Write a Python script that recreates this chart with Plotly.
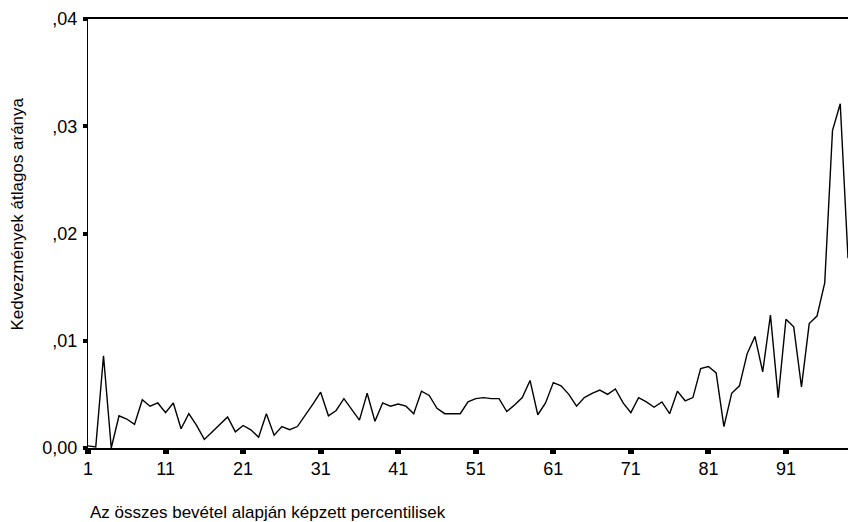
import plotly.graph_objects as go

# Percentiles of total income (1..99) and the mean share of allowances
percentiles = list(range(1, 100))
avg_share = [
    0.0002, 0.0001, 0.0086, 0.0000, 0.0030, 0.0027, 0.0022, 0.0045, 0.0039, 0.0042,  # 1-10
    0.0033, 0.0042, 0.0018, 0.0032, 0.0021, 0.0008, 0.0015, 0.0022, 0.0029, 0.0015,  # 11-20
    0.0021, 0.0017, 0.0010, 0.0032, 0.0012, 0.0020, 0.0017, 0.0020, 0.0030, 0.0041,  # 21-30
    0.0052, 0.0030, 0.0035, 0.0046, 0.0036, 0.0026, 0.0051, 0.0025, 0.0042, 0.0039,  # 31-40
    0.0041, 0.0039, 0.0032, 0.0053, 0.0049, 0.0037, 0.0032, 0.0032, 0.0032, 0.0043,  # 41-50
    0.0046, 0.0047, 0.0046, 0.0046, 0.0034, 0.0040, 0.0047, 0.0063, 0.0031, 0.0042,  # 51-60
    0.0061, 0.0058, 0.0050, 0.0039, 0.0047, 0.0051, 0.0054, 0.0050, 0.0055, 0.0042,  # 61-70
    0.0033, 0.0047, 0.0043, 0.0038, 0.0043, 0.0032, 0.0053, 0.0044, 0.0047, 0.0074,  # 71-80
    0.0076, 0.0070, 0.0020, 0.0051, 0.0058, 0.0088, 0.0104, 0.0071, 0.0124, 0.0047,  # 81-90
    0.0120, 0.0113, 0.0057, 0.0116, 0.0123, 0.0154, 0.0296, 0.0321, 0.0177,          # 91-99
]

x_tick_vals = [1, 11, 21, 31, 41, 51, 61, 71, 81, 91]
x_tick_text = [str(v) for v in x_tick_vals]
y_tick_vals = [0.0, 0.01, 0.02, 0.03, 0.04]
y_tick_text = ["0,00", ",01", ",02", ",03", ",04"]

x_title = "Az összes bevétel alapján képzett percentilisek"
y_title = "Kedvezmények átlagos aránya"

font_family = "Liberation Sans, Arial, sans-serif"

fig = go.Figure()
fig.add_trace(go.Scatter(
    x=percentiles,
    y=avg_share,
    mode="lines",
    line=dict(color="black", width=1.4),
    showlegend=False,
))

fig.update_layout(
    width=848,
    height=522,
    margin=dict(l=88, r=0, t=19, b=74),
    paper_bgcolor="white",
    plot_bgcolor="white",
    font=dict(family=font_family, size=17, color="black"),
    xaxis=dict(
        range=[1, 99],
        tickmode="array",
        tickvals=x_tick_vals,
        ticktext=x_tick_text,
        ticks="outside",
        ticklen=4,
        tickwidth=6,
        tickcolor="black",
        showline=True,
        linecolor="black",
        linewidth=1.6,
        mirror=True,
        showgrid=False,
        zeroline=False,
        tickfont=dict(size=18),
        ticklabelstandoff=0,
    ),
    yaxis=dict(
        range=[0, 0.04],
        tickmode="array",
        tickvals=y_tick_vals,
        ticktext=y_tick_text,
        ticks="outside",
        ticklen=4,
        tickwidth=4,
        tickcolor="black",
        showline=True,
        linecolor="black",
        linewidth=1.4,
        showgrid=False,
        zeroline=False,
        tickfont=dict(size=18),
        ticklabelstandoff=2,
    ),
    annotations=[
        dict(
            text=x_title, xref="paper", yref="paper",
            x=0, y=-0.151, xanchor="left", yanchor="middle",
            showarrow=False, font=dict(size=17),
        ),
        dict(
            text=y_title, xref="paper", yref="paper",
            x=-0.0925, y=0.546, xanchor="center", yanchor="middle",
            textangle=-90, showarrow=False, font=dict(size=17),
        ),
    ],
)

fig.write_html("out.html")
